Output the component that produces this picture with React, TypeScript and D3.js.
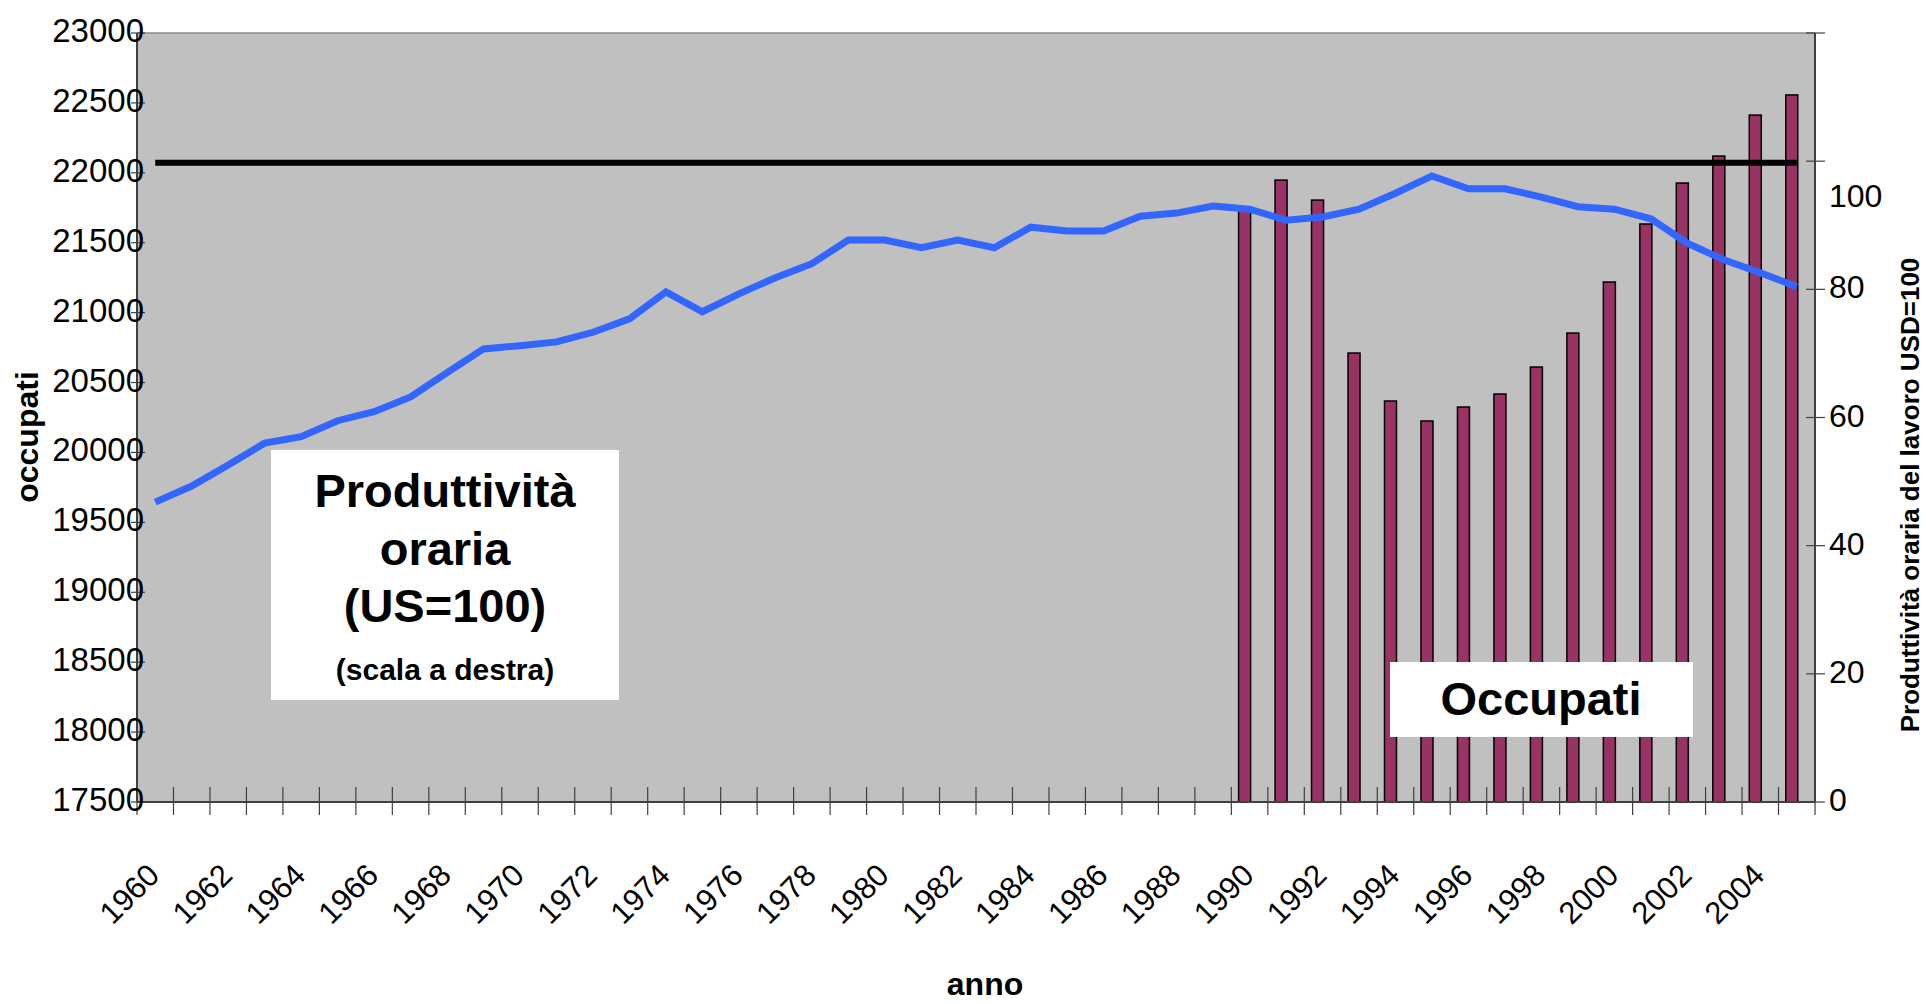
import React from "react";
import * as d3 from "d3";

const years = [
  1960, 1961, 1962, 1963, 1964, 1965, 1966, 1967, 1968, 1969,
  1970, 1971, 1972, 1973, 1974, 1975, 1976, 1977, 1978, 1979,
  1980, 1981, 1982, 1983, 1984, 1985, 1986, 1987, 1988, 1989,
  1990, 1991, 1992, 1993, 1994, 1995, 1996, 1997, 1998, 1999,
  2000, 2001, 2002, 2003, 2004, 2005,
];

// Produttività oraria (US=100), right axis
const produttivita = [
  46.8, 49.3, 52.6, 56.0, 57.0, 59.5, 60.9, 63.2, 67.0, 70.7,
  71.2, 71.8, 73.3, 75.4, 79.6, 76.5, 79.3, 81.8, 84.0, 87.7,
  87.7, 86.5, 87.7, 86.5, 89.7, 89.1, 89.1, 91.4, 91.9, 93.0,
  92.5, 90.8, 91.3, 92.5, 95.0, 97.7, 95.7, 95.7, 94.4, 92.9,
  92.5, 91.0, 87.2, 84.6, 82.6, 80.4,
];

// Occupati (migliaia), left axis
const occupatiYears = [
  1990, 1991, 1992, 1993, 1994, 1995, 1996, 1997,
  1998, 1999, 2000, 2001, 2002, 2003, 2004, 2005,
];
const occupati = [
  21755, 21948, 21805, 20711, 20368, 20225, 20325, 20418,
  20611, 20854, 21219, 21634, 21927, 22120, 22413, 22557,
];

const usLevel = 100;

const leftTicks = [17500, 18000, 18500, 19000, 19500, 20000, 20500, 21000, 21500, 22000, 22500, 23000];
const rightTicks = [0, 20, 40, 60, 80, 100, 120];
const rightTickLabels = ["0", "20", "40", "60", "80", "100", ""];
const xLabelYears = [
  1960, 1962, 1964, 1966, 1968, 1970, 1972, 1974, 1976, 1978, 1980, 1982,
  1984, 1986, 1988, 1990, 1992, 1994, 1996, 1998, 2000, 2002, 2004,
];

const FONT = "'Liberation Sans', Arial, Helvetica, sans-serif";

export default function App() {
  const W = 1926;
  const H = 1004;
  const L = 137;
  const R = 1815;
  const T = 33;
  const B = 802;

  const x = d3.scaleBand<number>().domain(years).range([L, R]).paddingInner(0).paddingOuter(0);
  const cx = (yr: number) => (x(yr) as number) + x.bandwidth() / 2;
  const yL = d3.scaleLinear().domain([17500, 23000]).range([B, T]);
  const yR = d3.scaleLinear().domain([0, 120]).range([B, T]);
  const inner = d3.scaleBand<string>().domain(["occupati", "serie2"]).range([-11, 13]);

  const linePath = d3
    .line<number>()
    .x((_, i) => cx(years[i]))
    .y((d) => yR(d))(produttivita) as string;

  const boundaries = years.map((yr) => x(yr) as number).concat([R]);

  return (
    <svg
      width={W}
      height={H}
      style={{ position: "absolute", left: 0, top: 0, display: "block", background: "#fff" }}
      fontFamily={FONT}
    >
      <rect x={0} y={0} width={W} height={H} fill="#fff" />
      {/* plot area */}
      <rect x={L} y={T} width={R - L} height={B - T} fill="#C0C0C0" />
      <line x1={L} x2={R} y1={T} y2={T} stroke="#8a8a8a" strokeWidth={1.5} />

      {/* bars */}
      {occupatiYears.map((yr, i) => (
        <rect
          key={yr}
          x={cx(yr) + (inner("occupati") as number)}
          y={yL(occupati[i])}
          width={inner.bandwidth()}
          height={B - yL(occupati[i])}
          fill="#993366"
          stroke="#000"
          strokeWidth={1.5}
        />
      ))}

      {/* US = 100 reference */}
      <line
        x1={cx(years[0])}
        x2={cx(years[years.length - 1])}
        y1={yR(usLevel) + 1.5}
        y2={yR(usLevel) + 1.5}
        stroke="#000"
        strokeWidth={6}
      />

      {/* productivity line */}
      <path d={linePath} fill="none" stroke="#3366FF" strokeWidth={7} strokeLinejoin="miter" />

      {/* axes lines */}
      <line x1={L} x2={L} y1={T} y2={B} stroke="#404040" strokeWidth={2} />
      <line x1={R} x2={R} y1={T} y2={B} stroke="#404040" strokeWidth={2} />
      <line x1={L} x2={R} y1={B} y2={B} stroke="#404040" strokeWidth={2} />

      {/* x ticks */}
      {boundaries.map((bx, i) => (
        <line key={"xt" + i} x1={bx} x2={bx} y1={B - 15} y2={B + 13} stroke="#404040" strokeWidth={1.2} />
      ))}

      {/* left ticks */}
      {leftTicks.map((v) => (
        <g key={"lt" + v}>
          <line x1={L - 6} x2={L + 8} y1={yL(v)} y2={yL(v)} stroke="#404040" strokeWidth={1.2} />
          <text x={L + 7} y={yL(v) + 9} fontSize={33} textAnchor="end" fill="#000">
            {v}
          </text>
        </g>
      ))}

      {/* right ticks */}
      {rightTicks.map((v, i) => (
        <g key={"rt" + v}>
          <line x1={R - 9} x2={R + 10} y1={yR(v)} y2={yR(v)} stroke="#404040" strokeWidth={1.2} />
          <text x={R + 14} y={yR(v) + 9 + (v === 100 ? 37 : 0)} fontSize={32} textAnchor="start" fill="#000">
            {rightTickLabels[i]}
          </text>
        </g>
      ))}

      {/* x labels */}
      {xLabelYears.map((yr) => (
        <text
          key={"xl" + yr}
          transform={`translate(${cx(yr) + 6},${877}) rotate(-45)`}
          fontSize={31}
          textAnchor="end"
          fill="#000"
        >
          {yr}
        </text>
      ))}

      {/* axis titles */}
      <text x={985} y={995} fontSize={32} fontWeight="bold" textAnchor="middle">
        anno
      </text>
      <text transform="translate(38,437) rotate(-90)" fontSize={32} fontWeight="bold" textAnchor="middle">
        occupati
      </text>
      <text transform="translate(1919,495) rotate(-90)" fontSize={26} fontWeight="bold" textAnchor="middle">
        Produttività oraria del lavoro USD=100
      </text>

      {/* annotation boxes */}
      <rect x={271} y={450} width={348} height={250} fill="#fff" />
      <g fontWeight="bold" textAnchor="middle" fill="#000">
        <text x={445} y={507} fontSize={47}>Produttività</text>
        <text x={445} y={565} fontSize={47}>oraria</text>
        <text x={445} y={622} fontSize={47}>(US=100)</text>
        <text x={445} y={680} fontSize={30}>(scala a destra)</text>
      </g>

      <rect x={1390} y={662} width={303} height={75} fill="#fff" />
      <text x={1541} y={715} fontSize={47} fontWeight="bold" textAnchor="middle">
        Occupati
      </text>
    </svg>
  );
}
